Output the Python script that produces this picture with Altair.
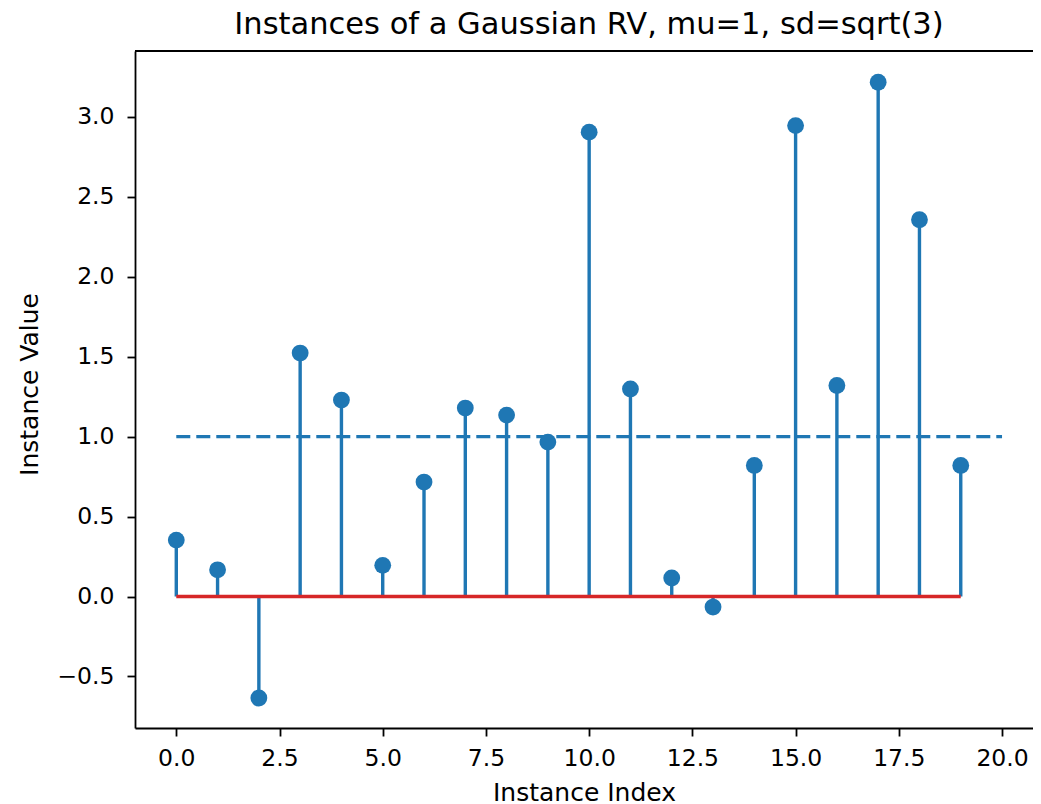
import altair as alt
import pandas as pd

# ---- data ----
index = list(range(20))
values = [0.353, 0.167, -0.635, 1.523, 1.229, 0.195, 0.716, 1.179, 1.135, 0.966,
          2.905, 1.298, 0.116, -0.066, 0.820, 2.946, 1.320, 3.217, 2.357, 0.820]
mu = 1.0
x_ticks = [0.0, 2.5, 5.0, 7.5, 10.0, 12.5, 15.0, 17.5, 20.0]
y_ticks = [-0.5, 0.0, 0.5, 1.0, 1.5, 2.0, 2.5, 3.0]
x_domain = [-1, 20.75]
y_domain = [-0.8225, 3.4125]

BLUE = "#1f77b4"
RED = "#d62728"
FONT = "DejaVu Sans"

df = pd.DataFrame({"idx": index, "val": values, "base": [0.0] * len(index)})
base_df = pd.DataFrame({"x0": [min(index)], "x1": [max(index)], "y": [0.0]})
mean_df = pd.DataFrame({"x0": [0], "x1": [len(index)], "y": [mu]})
frame_df = pd.DataFrame({"x0": [x_domain[0]], "x1": [x_domain[1]], "y": [y_domain[1]]})

xscale = alt.Scale(domain=x_domain, nice=False, zero=False)
yscale = alt.Scale(domain=y_domain, nice=False, zero=False)

x_axis = alt.Axis(values=x_ticks, format=".1f", title="Instance Index",
                  labelPadding=10, titlePadding=11)
y_axis = alt.Axis(values=y_ticks, format=".1f", title="Instance Value",
                  labelPadding=13, titlePadding=14, titleY=333)

stems = alt.Chart(df).mark_rule(color=BLUE, strokeWidth=3.4).encode(
    x=alt.X("idx:Q", scale=xscale, axis=x_axis),
    y=alt.Y("base:Q", scale=yscale, axis=y_axis),
    y2="val:Q",
)

top_spine = alt.Chart(frame_df).mark_rule(color="black", strokeWidth=1.8).encode(
    x=alt.X("x0:Q", scale=xscale, axis=x_axis),
    x2="x1:Q",
    y=alt.Y("y:Q", scale=yscale, axis=y_axis),
)

mean_line = alt.Chart(mean_df).mark_rule(color=BLUE, strokeWidth=3.4, strokeDash=[14, 6]).encode(
    x=alt.X("x0:Q", scale=xscale, axis=x_axis),
    x2="x1:Q",
    y=alt.Y("y:Q", scale=yscale, axis=y_axis),
)

points = alt.Chart(df).mark_circle(color=BLUE, size=283, opacity=1).encode(
    x=alt.X("idx:Q", scale=xscale, axis=x_axis),
    y=alt.Y("val:Q", scale=yscale, axis=y_axis),
)

baseline = alt.Chart(base_df).mark_rule(color=RED, strokeWidth=3.4).encode(
    x=alt.X("x0:Q", scale=xscale, axis=x_axis),
    x2="x1:Q",
    y=alt.Y("y:Q", scale=yscale, axis=y_axis),
)

chart = alt.layer(stems, top_spine, mean_line, points, baseline).properties(
    width=898,
    height=677,
    padding={"left": 127, "top": 43, "right": 0, "bottom": 78},
    autosize=alt.AutoSizeParams(type="none"),
    title=alt.TitleParams(
        text="Instances of a Gaussian RV, mu=1, sd=sqrt(3)",
        font=FONT, fontSize=30.5, fontWeight="normal", color="black",
        anchor="middle", frame="group", dx=5, offset=10,
    ),
).configure_view(stroke=None).configure_axis(
    grid=False, domainColor="black", domainWidth=1.8, tickColor="black",
    tickWidth=1.8, tickSize=8, labelFont=FONT, labelFontSize=23.5,
    labelColor="black", titleFont=FONT, titleFontSize=25, titleColor="black",
    titleFontWeight="normal",
)

chart.save("out.html", embed_options={"renderer": "svg", "actions": False})
